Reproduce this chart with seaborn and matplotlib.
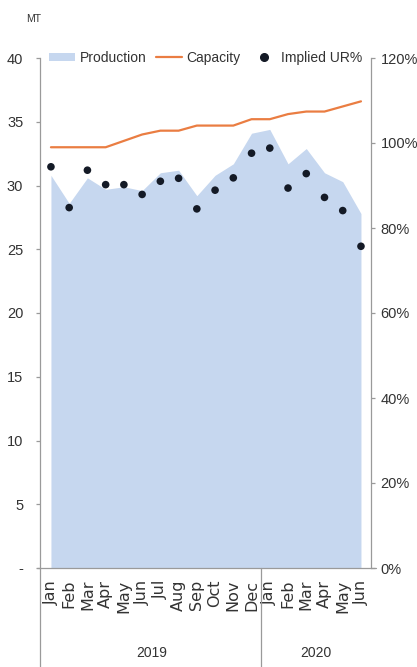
import matplotlib
matplotlib.use("Agg")
import matplotlib.pyplot as plt
import seaborn as sns
import pandas as pd
import numpy as np
from matplotlib.lines import Line2D
from matplotlib.patches import Patch

months = ["Jan", "Feb", "Mar", "Apr", "May", "Jun", "Jul", "Aug", "Sep", "Oct", "Nov", "Dec",
          "Jan", "Feb", "Mar", "Apr", "May", "Jun"]
years = ["2019", "2020"]
production = [30.8, 28.6, 30.6, 29.7, 29.9, 29.6, 31.0, 31.2, 29.2, 30.8, 31.7, 34.1,
              34.4, 31.7, 32.9, 31.0, 30.3, 27.8]
capacity = [33.0, 33.0, 33.0, 33.0, 33.5, 34.0, 34.3, 34.3, 34.7, 34.7, 34.7, 35.2,
            35.2, 35.6, 35.8, 35.8, 36.2, 36.6]
implied_ur = [94.4, 84.8, 93.6, 90.2, 90.2, 87.9, 91.0, 91.7, 84.5, 88.9, 91.8, 97.6,
              98.8, 89.4, 92.8, 87.2, 84.1, 75.7]
left_ticks = [0, 5, 10, 15, 20, 25, 30, 35, 40]
left_ticklabels = ["-", "5", "10", "15", "20", "25", "30", "35", "40"]
right_ticks = [0, 20, 40, 60, 80, 100, 120]
right_ticklabels = ["0%", "20%", "40%", "60%", "80%", "100%", "120%"]

df = pd.DataFrame({"x": np.arange(len(months)), "production": production,
                   "capacity": capacity, "ur": implied_ur})

sns.set_style("white")
plt.rcParams["font.family"] = ["Liberation Sans", "DejaVu Sans"]

fill_c = "#c6d7ef"
line_c = "#ea7d42"
dot_c = "#141a26"
axis_c = "#9a9a9a"
text_c = "#333333"

fig = plt.figure(figsize=(4.17, 6.67), dpi=100)
ax = fig.add_axes([40 / 417, 1 - 568 / 667, 331 / 417, 510 / 667])
ax2 = ax.twinx()

ax.fill_between(df["x"], 0, df["production"], color=fill_c, linewidth=0, zorder=1)
sns.lineplot(data=df, x="x", y="capacity", ax=ax, color=line_c, linewidth=1.6, zorder=3)
sns.scatterplot(data=df, x="x", y="ur", ax=ax2, color=dot_c, s=30, edgecolor="none", zorder=4)

ax.set_xlim(-0.6, 17.55)
ax.set_ylim(0, 40)
ax2.set_ylim(0, 120)

for a in (ax, ax2):
    a.set_xlabel("")
    a.set_ylabel("")
    for s in a.spines.values():
        s.set_visible(False)

ax.spines["left"].set_visible(True)
ax.spines["left"].set_color(axis_c)
ax.spines["left"].set_linewidth(0.9)
ax2.spines["right"].set_visible(True)
ax2.spines["right"].set_color(axis_c)
ax2.spines["right"].set_linewidth(0.9)

ax.set_yticks(left_ticks)
ax.set_yticklabels(left_ticklabels, fontsize=10.5, color=text_c)
ax.tick_params(axis="y", which="both", left=True, length=3, width=0.9, color=axis_c, pad=9)
ax2.set_yticks(right_ticks)
ax2.set_yticklabels(right_ticklabels, fontsize=10.5, color=text_c)
ax2.tick_params(axis="y", which="both", right=True, length=3, width=0.9, color=axis_c, pad=4)

ax.set_xticks(df["x"])
ax.set_xticklabels(months, rotation=90, fontsize=11.5, color=text_c, family=["DejaVu Sans"])
ax.tick_params(axis="x", length=0, pad=8.5)

# bottom axis line extending slightly past both vertical axes
ax.add_line(Line2D([-0.01, 1.015], [0, 0], transform=ax.transAxes, color=axis_c,
                   linewidth=0.9, clip_on=False, zorder=5))
# left axis extension and year separator below the axis
ext = -(667 - 568) / 510
ax.add_line(Line2D([0, 0], [0, ext], transform=ax.transAxes, color=axis_c,
                   linewidth=0.9, clip_on=False))
trans = ax.get_xaxis_transform()
ax.add_line(Line2D([11.5, 11.5], [0, ext], transform=trans, color=axis_c,
                   linewidth=0.9, clip_on=False))
y_year = -(653 - 568) / 510
ax.text(5.5, y_year, years[0], transform=trans, ha="center", va="center", fontsize=10, color=text_c)
ax.text(14.5, y_year, years[1], transform=trans, ha="center", va="center", fontsize=10, color=text_c)

fig.text(34 / 417, 1 - 19 / 667, "MT", ha="center", va="center", fontsize=7.5, color=text_c)

handles = [Patch(facecolor=fill_c, edgecolor="none"),
           Line2D([], [], color=line_c, linewidth=1.6),
           Line2D([], [], marker="o", linestyle="none", color=dot_c, markersize=5.5)]
leg = ax.legend(handles, ["Production", "Capacity", "Implied UR%"], loc="center",
                bbox_to_anchor=(0.5, 1.0), ncol=3, frameon=False, fontsize=10,
                handlelength=1.9, handleheight=0.55, handletextpad=0.3, columnspacing=0.7,
                borderpad=0)
for t in leg.get_texts():
    t.set_color(text_c)

fig.savefig("out.png", dpi=100)
